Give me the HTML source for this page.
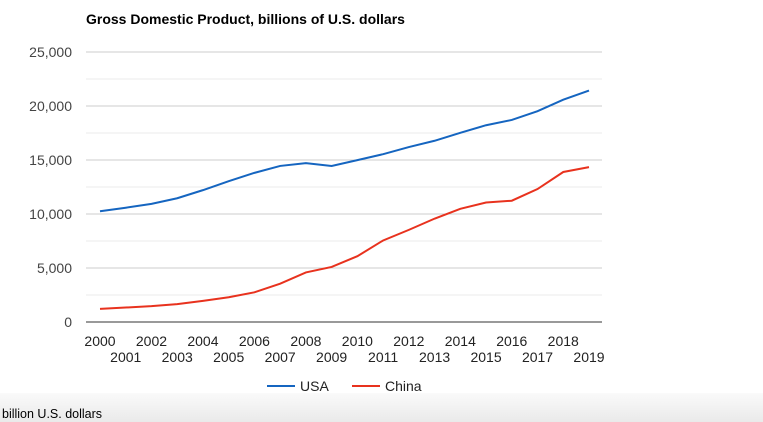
<!DOCTYPE html>
<html><head><meta charset="utf-8"><style>
body{margin:0;width:763px;height:422px;background:#fff;overflow:hidden;font-family:"Liberation Sans",Arial,sans-serif;position:relative}
#footer{position:absolute;left:0;top:393px;width:763px;height:29px;background:linear-gradient(#fafafa,#eaeaea)}
#footer span{position:absolute;left:2px;top:14px;font-size:12.5px;color:#000}
</style></head><body>
<svg id="chart" width="763" height="393" style="position:absolute;left:0;top:0" font-family="Liberation Sans, Arial, sans-serif">
<text x="86" y="24" font-size="14" font-weight="bold" fill="#000">Gross Domestic Product, billions of U.S. dollars</text>
<g id="grid"></g><g id="ylabels"></g><g id="xlabels"></g><g id="lines"></g>
<g>
<g><line x1="267" y1="386" x2="295" y2="386" stroke="#1565c0" stroke-width="2"/><text x="300" y="391" font-size="14" fill="#222">USA</text></g>
<g><line x1="352" y1="386" x2="380" y2="386" stroke="#e8321e" stroke-width="2"/><text x="385" y="391" font-size="14" fill="#222">China</text></g>
</g>
</svg>
<div id="footer"><span>billion U.S. dollars</span></div>
<script>
const years=[2000,2001,2002,2003,2004,2005,2006,2007,2008,2009,2010,2011,2012,2013,2014,2015,2016,2017,2018,2019];
const usa=[10250,10580,10940,11460,12210,13040,13810,14450,14710,14450,14990,15540,16200,16780,17520,18220,18710,19520,20580,21430];
const china=[1210,1340,1470,1660,1960,2290,2750,3550,4590,5100,6090,7550,8530,9570,10480,11060,11230,12310,13890,14340];
const yTicks=[0,5000,10000,15000,20000,25000];
const NS='http://www.w3.org/2000/svg';
const x0=86,x1=602,y0=322,y1=52;
const xs=i=>100+i*(589-100)/(years.length-1);
const ys=v=>y0-(v/25000)*(y0-y1);
function mk(t,a,p){const e=document.createElementNS(NS,t);for(const k in a)e.setAttribute(k,a[k]);p.appendChild(e);return e;}
const grid=document.getElementById('grid');
for(let v=2500;v<=25000;v+=2500){
  const l=mk('line',{x1:x0,x2:x1,y1:ys(v),y2:ys(v),stroke:v%5000?'#ebebeb':'#ccc','stroke-width':1},grid);
  
  
}
const yl=document.getElementById('ylabels');
yTicks.forEach(v=>{
  const t=mk('text',{x:72,y:ys(v)+5,'text-anchor':'end','font-size':14,fill:'#444'},yl);
  t.textContent=v.toLocaleString('en-US');
  
  
});
const base=mk('line',{x1:x0,x2:x1,y1:y0,y2:y0,stroke:'#333','stroke-width':1},grid);


const xl=document.getElementById('xlabels');
years.forEach((yr,i)=>{
  const t=mk('text',{x:xs(i),y:i%2?362:346,'text-anchor':'middle','font-size':14,fill:'#222'},xl);
  t.textContent=yr;
  
  
});
const lg=document.getElementById('lines');
[[usa,'#1565c0','usa-line'],[china,'#e8321e','china-line']].forEach(([d,c,n])=>{
  const p=mk('polyline',{points:d.map((v,i)=>xs(i)+','+ys(v)).join(' '),fill:'none',stroke:c,'stroke-width':2},lg);
  
  
});
</script>
</body></html>
